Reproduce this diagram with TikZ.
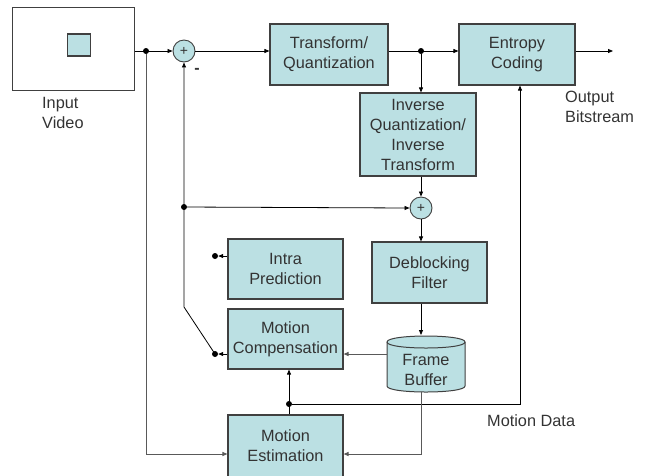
\documentclass[tikz,border=0pt]{standalone}
\usepackage{fontspec}
\setmainfont{Liberation Sans}
\usetikzlibrary{arrows.meta}
\definecolor{boxfill}{RGB}{187,224,227}
\definecolor{edge}{RGB}{64,64,64}
\definecolor{txt}{RGB}{51,51,51}
\begin{document}
\begin{tikzpicture}[x=1pt,y=-1pt,
 blk/.style={draw=edge, line width=1.1pt, fill=boxfill, align=center, inner sep=0pt, text=txt, font=\fontsize{16.3}{20}\selectfont},
 sumnode/.style={circle, draw=edge, line width=0.9pt, fill=boxfill, minimum size=22pt, inner sep=0pt, text=txt, font=\fontsize{14}{14}\selectfont},
 wire/.style={line width=0.8pt, draw=black},
 arr/.style={wire, -{Triangle[length=5pt,width=4pt]}},
 garr/.style={line width=1pt, draw=gray!70!black, -{Triangle[length=5pt,width=4pt]}},
 dotn/.style={circle, fill=black, inner sep=0pt, minimum size=6pt},
 lbl/.style={text=txt, align=left, font=\fontsize{16.3}{20}\selectfont, inner sep=0pt}
]
\useasboundingbox (0,0) rectangle (647,475);
% input video
\node[draw=edge, line width=1pt, minimum width=122pt, minimum height=83pt, inner sep=0pt] (frame) at (73,48.5) {};
\node[draw=edge, line width=1.2pt, fill=boxfill, minimum width=23pt, minimum height=22pt, inner sep=0pt] (sq) at (79,45) {};
\node[lbl, anchor=west] (inlbl) at (42,113) {Input\\Video};
% blocks
\node[sumnode] (s1) at (184,51) {+};
\node[lbl, font=\bfseries\fontsize{16}{16}\selectfont] (minus) at (197,71) {-};
\node[blk, minimum width=118pt, minimum height=61pt] (tq) at (329,54.5) {Transform/\\Quantization};
\node[blk, minimum width=116pt, minimum height=61pt] (ec) at (517,54.5) {Entropy\\Coding};
\node[blk, minimum width=116pt, minimum height=83pt] (iq) at (418,134.5) {Inverse\\Quantization/\\Inverse\\Transform};
\node[sumnode] (s2) at (421,208) {+};
\node[blk, minimum width=115pt, minimum height=61pt] (df) at (429.5,272.5) {Deblocking\\Filter};
\node[blk, minimum width=115pt, minimum height=60pt] (ip) at (285.5,269) {Intra\\Prediction};
\node[blk, minimum width=115pt, minimum height=60pt] (mc) at (285.5,339) {Motion\\Compensation};
\node[blk, minimum width=115pt, minimum height=62pt] (me) at (285.5,446) {Motion\\Estimation};
% frame buffer cylinder
\path[fill=boxfill, draw=edge, line width=1pt] (387,342) -- (387,386) .. controls (387,394) and (465,394) .. (465,386) -- (465,342) .. controls (465,334) and (387,334) .. (387,342) -- cycle;
\draw[edge, line width=1pt] (387,342) .. controls (387,350) and (465,350) .. (465,342);
\node[lbl, align=center, minimum width=78pt, minimum height=44pt] (fb) at (426,370) {Frame\\Buffer};
\coordinate (fbtop) at (421,335);
\coordinate (fbbot) at (421,392);
% forward path
\node[dotn] (d1) at (146,51) {};
\draw[arr] (frame.east |- s1) -- (s1.west);
\draw[arr] (s1.east) -- (tq.west |- s1);
\draw[arr] (tq.east |- s1) -- (ec.west |- s1);
\node[dotn] (d2) at (421,51) {};
\draw[arr] (d2) -- (d2 |- iq.north);
\coordinate (out) at (613,51);
\draw[arr] (ec.east |- s1) -- (out);
\node[lbl, anchor=west] (outlbl) at (565,107) {Output\\Bitstream};
\draw[arr] (s2 |- iq.south) -- (s2.north);
\draw[arr] (s2.south) -- (s2 |- df.north);
\draw[arr] (s2 |- df.south) -- (fbtop);
% prediction switch and feedback
\node[dotn] (ipdot) at (215,256) {};
\node[dotn] (mcdot) at (215,354) {};
\draw[arr] (ip.west |- ipdot) -- (ipdot.east);
\draw[arr] (mc.west |- mcdot) -- (mcdot.east);
\coordinate (bend) at (184,307);
\draw[arr] (mcdot.center) -- (bend) -- (s1.south);
\node[dotn] (d3) at (184,207) {};
\draw[arr] (d3) -- (s2.west);
% motion
\node[dotn] (d4) at (289,404) {};
\draw[arr] (d4 |- me.north) -- (d4 |- mc.south);
\coordinate (md) at (520,404);
\draw[arr] (d4) -- (md) -- (md |- ec.south);
\node[lbl, anchor=west] (mdlbl) at (487,421) {Motion Data};
% grey paths
\draw[garr] (fb.west |- 0,354) -- (mc.east |- 0,354);
\coordinate (fbcorner) at (421,454);
\draw[garr] (fbbot) -- (fbcorner) -- (me.east |- fbcorner);
\coordinate (lcorner) at (146,454);
\draw[garr] (d1) -- (lcorner) -- (me.west |- lcorner);
\end{tikzpicture}
\end{document}
